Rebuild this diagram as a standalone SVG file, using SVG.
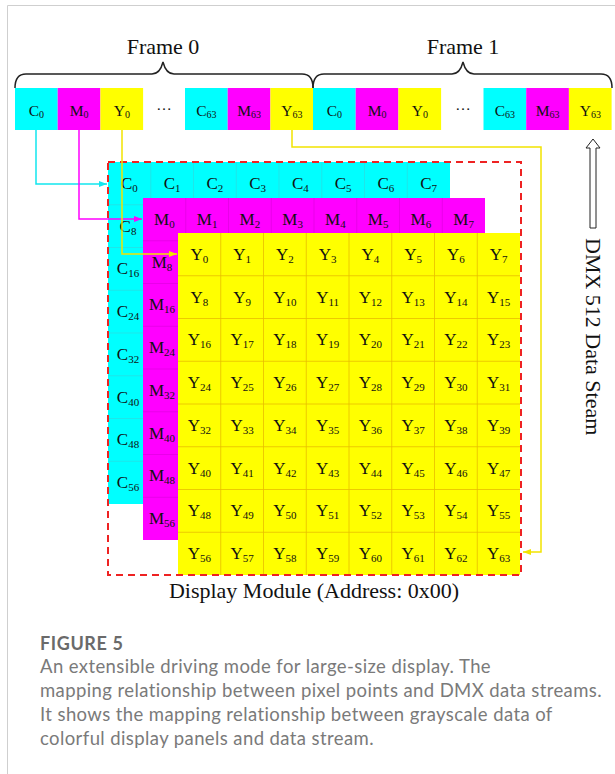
<svg xmlns="http://www.w3.org/2000/svg" width="615" height="774" viewBox="0 0 615 774">
<style>
.t{font-family:"Liberation Serif","Times New Roman",serif;fill:#111;text-anchor:middle}
.g{font-size:17px}
.s{font-size:11px}
.tp{font-size:15.5px}
.ts{font-size:10px}
.big{font-family:"Liberation Serif","Times New Roman",serif;font-size:22px;fill:#111}
.cap{font-family:Lato,"Open Sans",sans-serif;fill:#7a7a7a;font-size:18.5px;letter-spacing:0.4px}
.capb{font-family:Lato,"Open Sans",sans-serif;fill:#6a6a6a;font-size:18px;font-weight:bold;letter-spacing:0.6px}
.cy{fill:#00ffff}.mg{fill:#ff00ff}.ye{fill:#ffff00}
.cl{stroke:#2bdbe0;stroke-width:0.7;fill:none}
.ml{stroke:#e000e0;stroke-width:0.7;fill:none}
.yl{stroke:#e8bd00;stroke-width:0.8;fill:none}
.brace{fill:none;stroke:#222;stroke-width:1.5}
.conn{fill:none;stroke-width:1.5}
</style>
<defs>
<marker id="ac" markerUnits="userSpaceOnUse" markerWidth="8" markerHeight="6" refX="8" refY="3" orient="auto"><path d="M0,0 L8,3 L0,6 z" fill="#12e6ee"/></marker>
<marker id="am" markerUnits="userSpaceOnUse" markerWidth="8" markerHeight="6" refX="8" refY="3" orient="auto"><path d="M0,0 L8,3 L0,6 z" fill="#f0f"/></marker>
<marker id="ay" markerUnits="userSpaceOnUse" markerWidth="8" markerHeight="6" refX="8" refY="3" orient="auto"><path d="M0,0 L8,3 L0,6 z" fill="#f2e400"/></marker>
</defs>
<rect width="615" height="774" fill="#fff"/>
<path d="M7.5,774 V5.5 H615" fill="none" stroke="#cfcfcf" stroke-width="1"/>

<g id="frame0-label"><text class="big" x="163" y="54" text-anchor="middle">Frame 0</text><path class="brace" d="M15,88 C15,80 18,74 26,74 H152 C158,74 161,70 163,62 C165,70 168,74 174,74 H302 C310,74 313,80 313,88"/></g>
<g id="frame1-label"><text class="big" x="463" y="54" text-anchor="middle">Frame 1</text><path class="brace" d="M313,88 C313,80 316,74 324,74 H452 C458,74 461,70 463,62 C465,70 468,74 474,74 H601 C609,74 612,80 612,88"/></g>

<g id="f0-c0"><rect class="cy" x="15" y="88" width="42.7" height="42"/><text class="t tp" x="36.4" y="116">C<tspan class="ts" dy="2">0</tspan></text></g>
<g id="f0-m0"><rect class="mg" x="57.7" y="88" width="42.7" height="42"/><text class="t tp" x="79.1" y="116">M<tspan class="ts" dy="2">0</tspan></text></g>
<g id="f0-y0"><rect class="ye" x="100.4" y="88" width="42.7" height="42"/><text class="t tp" x="121.8" y="116">Y<tspan class="ts" dy="2">0</tspan></text></g>
<g id="f0-dots"><text class="t tp" x="164" y="110">…</text></g>
<g id="f0-c63"><rect class="cy" x="185" y="88" width="42.7" height="42"/><text class="t tp" x="206.4" y="116">C<tspan class="ts" dy="2">63</tspan></text></g>
<g id="f0-m63"><rect class="mg" x="227.7" y="88" width="42.7" height="42"/><text class="t tp" x="249.1" y="116">M<tspan class="ts" dy="2">63</tspan></text></g>
<g id="f0-y63"><rect class="ye" x="270.4" y="88" width="42.7" height="42"/><text class="t tp" x="291.8" y="116">Y<tspan class="ts" dy="2">63</tspan></text></g>
<g id="f1-c0"><rect class="cy" x="313" y="88" width="42.7" height="42"/><text class="t tp" x="334.4" y="116">C<tspan class="ts" dy="2">0</tspan></text></g>
<g id="f1-m0"><rect class="mg" x="355.7" y="88" width="42.7" height="42"/><text class="t tp" x="377.1" y="116">M<tspan class="ts" dy="2">0</tspan></text></g>
<g id="f1-y0"><rect class="ye" x="398.4" y="88" width="42.7" height="42"/><text class="t tp" x="419.8" y="116">Y<tspan class="ts" dy="2">0</tspan></text></g>
<g id="f1-dots"><text class="t tp" x="463" y="110">…</text></g>
<g id="f1-c63"><rect class="cy" x="483.5" y="88" width="42.7" height="42"/><text class="t tp" x="504.9" y="116">C<tspan class="ts" dy="2">63</tspan></text></g>
<g id="f1-m63"><rect class="mg" x="526.2" y="88" width="42.7" height="42"/><text class="t tp" x="547.6" y="116">M<tspan class="ts" dy="2">63</tspan></text></g>
<g id="f1-y63"><rect class="ye" x="568.9" y="88" width="42.7" height="42"/><text class="t tp" x="590.3" y="116">Y<tspan class="ts" dy="2">63</tspan></text></g>

<g id="grid-cyan">
<rect class="cy" x="108" y="162" width="342" height="342"/>
<path class="cl" d="M150.75,162V504M193.5,162V504M236.25,162V504M279,162V504M321.75,162V504M364.5,162V504M407.25,162V504M108,204.75H450M108,247.5H450M108,290.25H450M108,333H450M108,375.75H450M108,418.5H450M108,461.25H450"/>
</g>
<g id="grid-magenta">
<rect class="mg" x="143" y="198" width="342" height="342"/>
<path class="ml" d="M185.75,198V540M228.5,198V540M271.25,198V540M314,198V540M356.75,198V540M399.5,198V540M442.25,198V540M143,240.75H485M143,283.5H485M143,326.25H485M143,369H485M143,411.75H485M143,454.5H485M143,497.25H485"/>
</g>
<g id="grid-yellow">
<rect class="ye" x="178" y="233" width="342" height="342"/>
<path class="yl" d="M220.75,233V575M263.5,233V575M306.25,233V575M349,233V575M391.75,233V575M434.5,233V575M477.25,233V575M178,275.75H520M178,318.5H520M178,361.25H520M178,404H520M178,446.75H520M178,489.5H520M178,532.25H520"/>
</g>

<g id="labels-cyan">
<text class="t g" x="129.4" y="188.9">C<tspan class="s" dy="3">0</tspan></text>
<text class="t g" x="172.1" y="188.9">C<tspan class="s" dy="3">1</tspan></text>
<text class="t g" x="214.9" y="188.9">C<tspan class="s" dy="3">2</tspan></text>
<text class="t g" x="257.6" y="188.9">C<tspan class="s" dy="3">3</tspan></text>
<text class="t g" x="300.4" y="188.9">C<tspan class="s" dy="3">4</tspan></text>
<text class="t g" x="343.1" y="188.9">C<tspan class="s" dy="3">5</tspan></text>
<text class="t g" x="385.9" y="188.9">C<tspan class="s" dy="3">6</tspan></text>
<text class="t g" x="428.6" y="188.9">C<tspan class="s" dy="3">7</tspan></text>
<text class="t g" x="128" y="231.6">C<tspan class="s" dy="3">8</tspan></text>
<text class="t g" x="128" y="274.4">C<tspan class="s" dy="3">16</tspan></text>
<text class="t g" x="128" y="317.1">C<tspan class="s" dy="3">24</tspan></text>
<text class="t g" x="128" y="359.9">C<tspan class="s" dy="3">32</tspan></text>
<text class="t g" x="128" y="402.6">C<tspan class="s" dy="3">40</tspan></text>
<text class="t g" x="128" y="445.4">C<tspan class="s" dy="3">48</tspan></text>
<text class="t g" x="128" y="488.1">C<tspan class="s" dy="3">56</tspan></text>
</g>
<g id="labels-magenta">
<text class="t g" x="164.4" y="224.9">M<tspan class="s" dy="3">0</tspan></text>
<text class="t g" x="207.1" y="224.9">M<tspan class="s" dy="3">1</tspan></text>
<text class="t g" x="249.9" y="224.9">M<tspan class="s" dy="3">2</tspan></text>
<text class="t g" x="292.6" y="224.9">M<tspan class="s" dy="3">3</tspan></text>
<text class="t g" x="335.4" y="224.9">M<tspan class="s" dy="3">4</tspan></text>
<text class="t g" x="378.1" y="224.9">M<tspan class="s" dy="3">5</tspan></text>
<text class="t g" x="420.9" y="224.9">M<tspan class="s" dy="3">6</tspan></text>
<text class="t g" x="463.6" y="224.9">M<tspan class="s" dy="3">7</tspan></text>
<text class="t g" x="162" y="267.6">M<tspan class="s" dy="3">8</tspan></text>
<text class="t g" x="162" y="310.4">M<tspan class="s" dy="3">16</tspan></text>
<text class="t g" x="162" y="353.1">M<tspan class="s" dy="3">24</tspan></text>
<text class="t g" x="162" y="395.9">M<tspan class="s" dy="3">32</tspan></text>
<text class="t g" x="162" y="438.6">M<tspan class="s" dy="3">40</tspan></text>
<text class="t g" x="162" y="481.4">M<tspan class="s" dy="3">48</tspan></text>
<text class="t g" x="162" y="524.1">M<tspan class="s" dy="3">56</tspan></text>
</g>
<g id="labels-yellow">
<text class="t g" x="199.4" y="259.9">Y<tspan class="s" dy="3">0</tspan></text>
<text class="t g" x="242.1" y="259.9">Y<tspan class="s" dy="3">1</tspan></text>
<text class="t g" x="284.9" y="259.9">Y<tspan class="s" dy="3">2</tspan></text>
<text class="t g" x="327.6" y="259.9">Y<tspan class="s" dy="3">3</tspan></text>
<text class="t g" x="370.4" y="259.9">Y<tspan class="s" dy="3">4</tspan></text>
<text class="t g" x="413.1" y="259.9">Y<tspan class="s" dy="3">5</tspan></text>
<text class="t g" x="455.9" y="259.9">Y<tspan class="s" dy="3">6</tspan></text>
<text class="t g" x="498.6" y="259.9">Y<tspan class="s" dy="3">7</tspan></text>
<text class="t g" x="199.4" y="302.6">Y<tspan class="s" dy="3">8</tspan></text>
<text class="t g" x="242.1" y="302.6">Y<tspan class="s" dy="3">9</tspan></text>
<text class="t g" x="284.9" y="302.6">Y<tspan class="s" dy="3">10</tspan></text>
<text class="t g" x="327.6" y="302.6">Y<tspan class="s" dy="3">11</tspan></text>
<text class="t g" x="370.4" y="302.6">Y<tspan class="s" dy="3">12</tspan></text>
<text class="t g" x="413.1" y="302.6">Y<tspan class="s" dy="3">13</tspan></text>
<text class="t g" x="455.9" y="302.6">Y<tspan class="s" dy="3">14</tspan></text>
<text class="t g" x="498.6" y="302.6">Y<tspan class="s" dy="3">15</tspan></text>
<text class="t g" x="199.4" y="345.4">Y<tspan class="s" dy="3">16</tspan></text>
<text class="t g" x="242.1" y="345.4">Y<tspan class="s" dy="3">17</tspan></text>
<text class="t g" x="284.9" y="345.4">Y<tspan class="s" dy="3">18</tspan></text>
<text class="t g" x="327.6" y="345.4">Y<tspan class="s" dy="3">19</tspan></text>
<text class="t g" x="370.4" y="345.4">Y<tspan class="s" dy="3">20</tspan></text>
<text class="t g" x="413.1" y="345.4">Y<tspan class="s" dy="3">21</tspan></text>
<text class="t g" x="455.9" y="345.4">Y<tspan class="s" dy="3">22</tspan></text>
<text class="t g" x="498.6" y="345.4">Y<tspan class="s" dy="3">23</tspan></text>
<text class="t g" x="199.4" y="388.1">Y<tspan class="s" dy="3">24</tspan></text>
<text class="t g" x="242.1" y="388.1">Y<tspan class="s" dy="3">25</tspan></text>
<text class="t g" x="284.9" y="388.1">Y<tspan class="s" dy="3">26</tspan></text>
<text class="t g" x="327.6" y="388.1">Y<tspan class="s" dy="3">27</tspan></text>
<text class="t g" x="370.4" y="388.1">Y<tspan class="s" dy="3">28</tspan></text>
<text class="t g" x="413.1" y="388.1">Y<tspan class="s" dy="3">29</tspan></text>
<text class="t g" x="455.9" y="388.1">Y<tspan class="s" dy="3">30</tspan></text>
<text class="t g" x="498.6" y="388.1">Y<tspan class="s" dy="3">31</tspan></text>
<text class="t g" x="199.4" y="430.9">Y<tspan class="s" dy="3">32</tspan></text>
<text class="t g" x="242.1" y="430.9">Y<tspan class="s" dy="3">33</tspan></text>
<text class="t g" x="284.9" y="430.9">Y<tspan class="s" dy="3">34</tspan></text>
<text class="t g" x="327.6" y="430.9">Y<tspan class="s" dy="3">35</tspan></text>
<text class="t g" x="370.4" y="430.9">Y<tspan class="s" dy="3">36</tspan></text>
<text class="t g" x="413.1" y="430.9">Y<tspan class="s" dy="3">37</tspan></text>
<text class="t g" x="455.9" y="430.9">Y<tspan class="s" dy="3">38</tspan></text>
<text class="t g" x="498.6" y="430.9">Y<tspan class="s" dy="3">39</tspan></text>
<text class="t g" x="199.4" y="473.6">Y<tspan class="s" dy="3">40</tspan></text>
<text class="t g" x="242.1" y="473.6">Y<tspan class="s" dy="3">41</tspan></text>
<text class="t g" x="284.9" y="473.6">Y<tspan class="s" dy="3">42</tspan></text>
<text class="t g" x="327.6" y="473.6">Y<tspan class="s" dy="3">43</tspan></text>
<text class="t g" x="370.4" y="473.6">Y<tspan class="s" dy="3">44</tspan></text>
<text class="t g" x="413.1" y="473.6">Y<tspan class="s" dy="3">45</tspan></text>
<text class="t g" x="455.9" y="473.6">Y<tspan class="s" dy="3">46</tspan></text>
<text class="t g" x="498.6" y="473.6">Y<tspan class="s" dy="3">47</tspan></text>
<text class="t g" x="199.4" y="516.4">Y<tspan class="s" dy="3">48</tspan></text>
<text class="t g" x="242.1" y="516.4">Y<tspan class="s" dy="3">49</tspan></text>
<text class="t g" x="284.9" y="516.4">Y<tspan class="s" dy="3">50</tspan></text>
<text class="t g" x="327.6" y="516.4">Y<tspan class="s" dy="3">51</tspan></text>
<text class="t g" x="370.4" y="516.4">Y<tspan class="s" dy="3">52</tspan></text>
<text class="t g" x="413.1" y="516.4">Y<tspan class="s" dy="3">53</tspan></text>
<text class="t g" x="455.9" y="516.4">Y<tspan class="s" dy="3">54</tspan></text>
<text class="t g" x="498.6" y="516.4">Y<tspan class="s" dy="3">55</tspan></text>
<text class="t g" x="199.4" y="559.1">Y<tspan class="s" dy="3">56</tspan></text>
<text class="t g" x="242.1" y="559.1">Y<tspan class="s" dy="3">57</tspan></text>
<text class="t g" x="284.9" y="559.1">Y<tspan class="s" dy="3">58</tspan></text>
<text class="t g" x="327.6" y="559.1">Y<tspan class="s" dy="3">59</tspan></text>
<text class="t g" x="370.4" y="559.1">Y<tspan class="s" dy="3">60</tspan></text>
<text class="t g" x="413.1" y="559.1">Y<tspan class="s" dy="3">61</tspan></text>
<text class="t g" x="455.9" y="559.1">Y<tspan class="s" dy="3">62</tspan></text>
<text class="t g" x="498.6" y="559.1">Y<tspan class="s" dy="3">63</tspan></text>
</g>

<g id="display-module">
<rect x="108" y="162" width="413" height="413" fill="none" stroke="#ee2222" stroke-width="2" stroke-dasharray="7,5"/>
<text class="big" x="314" y="598" text-anchor="middle">Display Module (Address: 0x00)</text>
</g>

<g id="connectors">
<path class="conn" stroke="#12e6ee" d="M36,130 V184 H107" marker-end="url(#ac)"/>
<path class="conn" stroke="#f0f" d="M79,130 V219 H142" marker-end="url(#am)"/>
<path class="conn" stroke="#f2e400" d="M122,130 V254 H177" marker-end="url(#ay)"/>
<path class="conn" stroke="#f2e400" d="M292,130 V147 H541 V552 H523" marker-end="url(#ay)"/>
</g>

<g id="dmx-stream">
<path d="M590,228 V148 H586 L593,139 L600,148 H596 V228 Z" fill="#fff" stroke="#222" stroke-width="1"/>
<text class="big" transform="translate(586,238) rotate(90)">DMX 512 Data Steam</text>
</g>

<g id="caption">
<text class="capb" x="40" y="650">FIGURE 5</text>
<text class="cap" x="40" y="673">An extensible driving mode for large-size display. The</text>
<text class="cap" x="40" y="697">mapping relationship between pixel points and DMX data streams.</text>
<text class="cap" x="40" y="721">It shows the mapping relationship between grayscale data of</text>
<text class="cap" x="40" y="745">colorful display panels and data stream.</text>
</g>
</svg>
